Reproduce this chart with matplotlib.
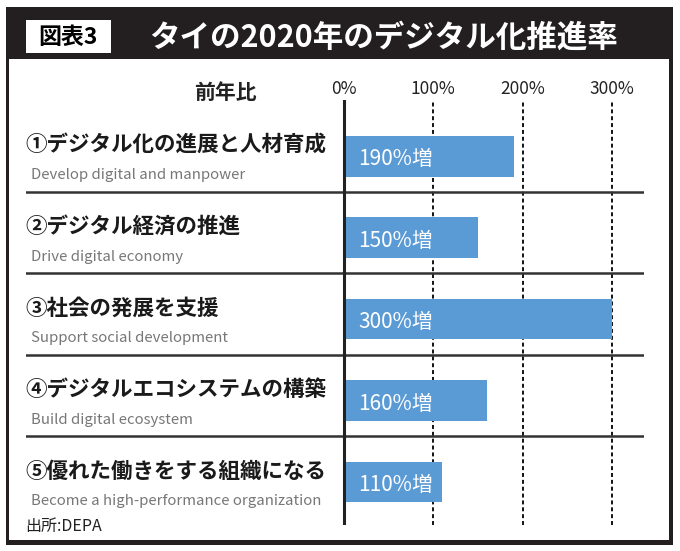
import matplotlib
matplotlib.use("Agg")
import matplotlib.pyplot as plt
from matplotlib.patches import Rectangle

plt.rcParams['font.family'] = ['Noto Sans CJK JP', 'DejaVu Sans']

# data
labels_jp = ["①デジタル化の進展と人材育成", "②デジタル経済の推進", "③社会の発展を支援",
             "④デジタルエコシステムの構築", "⑤優れた働きをする組織になる"]
labels_en = ["Develop digital and manpower", "Drive digital economy", "Support social development",
             "Build digital ecosystem", "Become a high-performance organization"]
values = [190, 150, 300, 160, 110]
bar_text = ["190%増", "150%増", "300%増", "160%増", "110%増"]
ticks = [0, 100, 200, 300]
tick_labels = ["0%", "100%", "200%", "300%"]
title = "タイの2020年のデジタル化推進率"
fig_label = "図表3"
source = "出所:DEPA"

W, H = 680, 551
fig = plt.figure(figsize=(W / 100, H / 100), dpi=100)

# background layer in pixel coords
bg = fig.add_axes([0, 0, 1, 1])
bg.set_xlim(0, W)
bg.set_ylim(H, 0)
bg.axis("off")
dark = "#231f20"
bg.add_patch(Rectangle((6, 7), 667, 538, facecolor=dark, edgecolor="none"))
bg.add_patch(Rectangle((9, 59), 660, 481, facecolor="white", edgecolor="none"))
bg.add_patch(Rectangle((26, 20), 85, 33, facecolor="white", edgecolor="none"))
bg.text(68, 37, fig_label, color="black", fontsize=16.5, fontweight="bold",
        ha="center", va="center")
bg.text(384, 38, title, color="white", fontsize=22, fontweight="bold",
        ha="center", va="center")
bg.text(25, 526, source, color="#222222", fontsize=11.5, ha="left", va="center")
bg.text(225, 92, "前年比", color="#222222", fontsize=15, fontweight="bold",
        ha="center", va="center")

# chart axes
x0, x1 = 26, 644
y0, y1 = 100, 525
ax = fig.add_axes([x0 / W, 1 - y1 / H, (x1 - x0) / W, (y1 - y0) / H])
px = 89.33 / 100  # pixels per percent
zero = 344
ax.set_xlim(-(zero - x0) / px, (x1 - zero) / px)
row_h = 81.45
c0 = 156.2
ax.set_ylim((y1 - c0) / row_h, (y0 - c0) / row_h)
ax.axis("off")

rows = list(range(len(values)))
ax.barh(rows, values, height=0.5, color="#5b9bd5", zorder=2)

for t in ticks[1:]:
    ax.axvline(t, color="black", lw=1.3, ls=(0, (2.2, 1.6)), zorder=1)
ax.axvline(0, color="#222222", lw=2.2, zorder=3)

for i in rows[:-1]:
    ax.axhline(i + 0.44, color="#333333", lw=1.8, zorder=1)

xl = ax.get_xlim()[0]
for i in rows:
    ax.text(xl - 1 / px, i - 11 / row_h, labels_jp[i], fontsize=15.5, fontweight="bold",
            color="#1a1a1a", ha="left", va="center")
    ax.text(xl + 5 / px, i + 19 / row_h, labels_en[i], fontsize=10.8, color="#777777",
            ha="left", va="center")
    ax.text(14 / px, i + 3 / row_h, bar_text[i], fontsize=15, color="white",
            ha="left", va="center", zorder=4)

for t, lab in zip(ticks, tick_labels):
    ax.text(t, (89 - c0) / row_h, lab, fontsize=12.5, color="#222222",
            ha="center", va="center", clip_on=False)

fig.savefig("out.png", dpi=100)
